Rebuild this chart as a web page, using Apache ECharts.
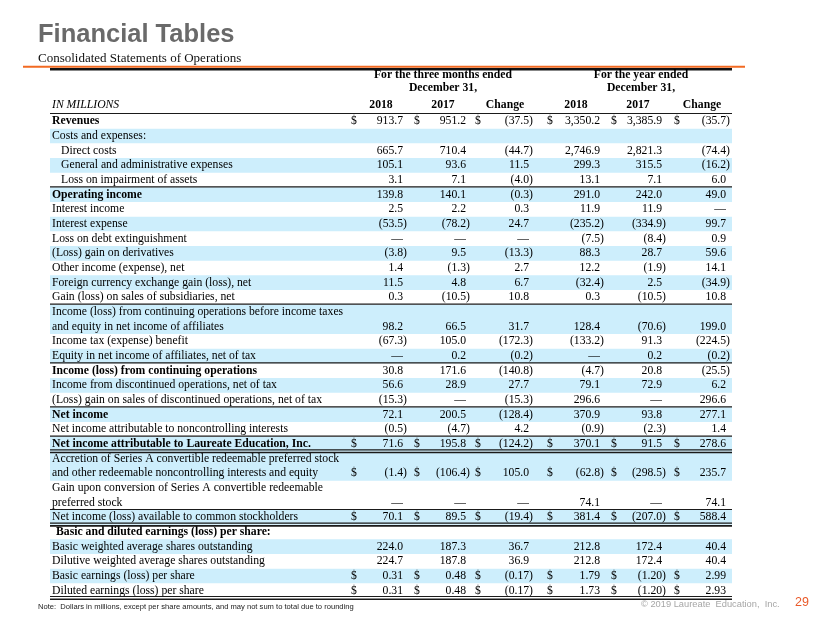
<!DOCTYPE html>
<html>
<head>
<meta charset="utf-8">
<script src="https://cdn.jsdelivr.net/npm/echarts@6/dist/echarts.min.js"></script>
<style>
html,body{margin:0;padding:0;background:#fff;}
#chart{width:830px;height:623px;}
</style>
</head>
<body>
<div id="chart"></div>
<script>
// ---------- DATA ----------
const rowLabels = [
  'Revenues',
  'Costs and expenses:',
  'Direct costs',
  'General and administrative expenses',
  'Loss on impairment of assets',
  'Operating income',
  'Interest income',
  'Interest expense',
  'Loss on debt extinguishment',
  '(Loss) gain on derivatives',
  'Other income (expense), net',
  'Foreign currency exchange gain (loss), net',
  'Gain (loss) on sales of subsidiaries, net',
  'Income (loss) from continuing operations before income taxes\nand equity in net income of affiliates',
  'Income tax (expense) benefit',
  'Equity in net income of affiliates, net of tax',
  'Income (loss) from continuing operations',
  'Income from discontinued operations, net of tax',
  '(Loss) gain on sales of discontinued operations, net of tax',
  'Net income',
  'Net income attributable to noncontrolling interests',
  'Net income attributable to Laureate Education, Inc.',
  'Accretion of Series A convertible redeemable preferred stock\nand other redeemable noncontrolling interests and equity',
  'Gain upon conversion of Series A convertible redeemable\npreferred stock',
  'Net income (loss) available to common stockholders',
  'Basic and diluted earnings (loss) per share:',
  'Basic weighted average shares outstanding',
  'Dilutive weighted average shares outstanding',
  'Basic earnings (loss) per share',
  'Diluted earnings (loss) per share'
];
// null = blank cell, 0 = em dash
const q2018 = [913.7, null, 665.7, 105.1, 3.1, 139.8, 2.5, -53.5, 0, -3.8, 1.4, 11.5, 0.3, 98.2, -67.3, 0, 30.8, 56.6, -15.3, 72.1, -0.5, 71.6, -1.4, 0, 70.1, null, 224.0, 224.7, 0.31, 0.31];
const q2017 = [951.2, null, 710.4, 93.6, 7.1, 140.1, 2.2, -78.2, 0, 9.5, -1.3, 4.8, -10.5, 66.5, 105.0, 0.2, 171.6, 28.9, 0, 200.5, -4.7, 195.8, -106.4, 0, 89.5, null, 187.3, 187.8, 0.48, 0.48];
const qChange = [-37.5, null, -44.7, 11.5, -4.0, -0.3, 0.3, 24.7, 0, -13.3, 2.7, 6.7, 10.8, 31.7, -172.3, -0.2, -140.8, 27.7, -15.3, -128.4, 4.2, -124.2, 105.0, 0, -19.4, null, 36.7, 36.9, -0.17, -0.17];
const y2018 = [3350.2, null, 2746.9, 299.3, 13.1, 291.0, 11.9, -235.2, -7.5, 88.3, 12.2, -32.4, 0.3, 128.4, -133.2, 0, -4.7, 79.1, 296.6, 370.9, -0.9, 370.1, -62.8, 74.1, 381.4, null, 212.8, 212.8, 1.79, 1.73];
const y2017 = [3385.9, null, 2821.3, 315.5, 7.1, 242.0, 11.9, -334.9, -8.4, 28.7, -1.9, 2.5, -10.5, -70.6, 91.3, 0.2, 20.8, 72.9, 0, 93.8, -2.3, 91.5, -298.5, 0, -207.0, null, 172.4, 172.4, -1.20, -1.20];
const yChange = [-35.7, null, -74.4, -16.2, 6.0, 49.0, 0, 99.7, 0.9, 59.6, 14.1, -34.9, 10.8, 199.0, -224.5, -0.2, -25.5, 6.2, 296.6, 277.1, 1.4, 278.6, 235.7, 74.1, 588.4, null, 40.4, 40.4, 2.99, 2.93];
const columns = [q2018, q2017, qChange, y2018, y2017, yChange];
const colHeaders = ['2018', '2017', 'Change', '2018', '2017', 'Change'];
const groupHeaders = ['For the three months ended\nDecember 31,', 'For the year ended\nDecember 31,'];
const unitLabel = 'IN MILLIONS';

const boldRows = [0, 5, 16, 19, 21, 25];
const indentRows = [2, 3, 4];
const subIndentRows = [25];
const dollarRows = [0, 21, 22, 24, 28, 29];
const shadedRows = [1, 3, 5, 7, 9, 11, 13, 15, 17, 19, 21, 22, 24, 26, 28];
const twoDecimalRows = [28, 29];
// rules: [row, edge, kind]
const rules = [
  [0, 'top', 'single'], [5, 'top', 'single'], [13, 'top', 'single'], [16, 'top', 'single'],
  [19, 'top', 'single'], [21, 'top', 'single'], [21, 'bottom', 'double'], [24, 'top', 'single'],
  [24, 'bottom', 'double'], [29, 'bottom', 'double']
];

// ---------- LAYOUT (style) ----------
const tableLeft = 50, tableRight = 732;
const colRight = [403, 466, 529, 600, 662, 726];
const colDollar = [351, 414, 475, 547, 611, 674];
const colCenter = [381, 443, 505, 576, 638, 702];
const groupCenter = [443, 641];
const serif = '"Liberation Serif", "Times New Roman", serif';
const sans = '"Liberation Sans", Arial, sans-serif';
const FS = 11.7;

// row units from line counts
const rowLines = rowLabels.map(l => l.split('\n').length);
const rowStart = [];
let acc = 0;
rowLines.forEach((n, i) => { rowStart.push(acc); acc += n; });
const totalUnits = acc;

function fmt(v, dec) {
  if (v === null || v === undefined) return '';
  if (v === 0) return '\u2014';
  const s = Math.abs(v).toLocaleString('en-US', { minimumFractionDigits: dec, maximumFractionDigits: dec });
  return v < 0 ? '(' + s + ')' : s;
}

function txt(text, x, y, opt) {
  opt = opt || {};
  return {
    type: 'text',
    style: {
      text: text, x: x, y: y,
      fill: opt.fill || '#000',
      fontSize: opt.fontSize || FS,
      fontFamily: opt.fontFamily || serif,
      fontWeight: opt.fontWeight || 'normal',
      fontStyle: opt.fontStyle || 'normal',
      align: opt.align || 'left', textAlign: opt.align || 'left',
      verticalAlign: 'middle', textVerticalAlign: 'middle'
    }
  };
}

const chart = echarts.init(document.getElementById('chart'), null, { renderer: 'canvas' });

const option = {
  animation: false,
  backgroundColor: '#fff',
  grid: { left: 0, right: 0, top: 70, bottom: 25 },
  xAxis: { type: 'value', min: 0, max: 830, show: false },
  yAxis: { type: 'value', min: -3, max: totalUnits, inverse: true, show: false },
  graphic: [
    { type: 'text', left: 38, top: 22, style: { text: 'Financial Tables', fontSize: 25.5, fontWeight: 'bold', fontFamily: sans, fill: '#6a6a6a' } },
    { type: 'text', left: 38, top: 52, style: { text: 'Consolidated Statements of Operations', fontSize: 13, fontFamily: serif, fill: '#111' } },
    { type: 'line', shape: { x1: 23, y1: 66.8, x2: 745, y2: 66.8 }, style: { stroke: '#f26a22', lineWidth: 2 } },
    { type: 'line', shape: { x1: 50, y1: 69.3, x2: 732, y2: 69.3 }, style: { stroke: '#111', lineWidth: 2.4 } },
    { type: 'text', left: 38, top: 603, style: { text: 'Note:  Dollars in millions, except per share amounts, and may not sum to total due to rounding', fontSize: 7.6, fontFamily: sans, fill: '#222' } },
    { type: 'text', left: 641, top: 600, style: { text: '\u00A9 2019 Laureate  Education,  Inc.', fontSize: 9.3, fontFamily: sans, fill: '#a6a6a6' } },
    { type: 'text', left: 795, top: 596, style: { text: '29', fontSize: 12.5, fontFamily: sans, fill: '#ea5a2a' } }
  ],
  series: [
    {
      type: 'custom',
      coordinateSystem: 'cartesian2d',
      data: [[0]],
      silent: true,
      renderItem: function (params, api) {
        const children = [];
        const ys = [api.coord([0, -2.66])[1], api.coord([0, -1.77])[1], api.coord([0, -0.6])[1]];
        groupHeaders.forEach((g, gi) => {
          g.split('\n').forEach((line, li) => {
            children.push(txt(line, groupCenter[gi], ys[li], { fontWeight: 'bold', align: 'center' }));
          });
        });
        colHeaders.forEach((h, ci) => {
          children.push(txt(h, colCenter[ci], ys[2], { fontWeight: 'bold', align: 'center' }));
        });
        children.push(txt(unitLabel, 52, ys[2], { fontStyle: 'italic' }));
        return { type: 'group', children: children };
      }
    },
    {
      type: 'custom',
      coordinateSystem: 'cartesian2d',
      data: rowLabels.map((_, i) => [i]),
      silent: true,
      renderItem: function (params, api) {
        const i = params.dataIndex;
        const u0 = rowStart[i], n = rowLines[i];
        const yTop = api.coord([0, u0])[1];
        const yBot = api.coord([0, u0 + n])[1];
        const children = [];
        if (shadedRows.indexOf(i) >= 0) {
          children.push({ type: 'rect', shape: { x: tableLeft, y: yTop, width: tableRight - tableLeft, height: yBot - yTop }, style: { fill: '#cdeefc' } });
        }
        const bold = boldRows.indexOf(i) >= 0 ? 'bold' : 'normal';
        const lx = indentRows.indexOf(i) >= 0 ? 61 : (subIndentRows.indexOf(i) >= 0 ? 56 : 52);
        rowLabels[i].split('\n').forEach((line, li) => {
          const yc = api.coord([0, u0 + li + 0.5])[1];
          children.push(txt(line, lx, yc, { fontWeight: bold }));
        });
        const yv = api.coord([0, u0 + n - 0.5])[1];
        const dec = twoDecimalRows.indexOf(i) >= 0 ? 2 : 1;
        const hasDollar = dollarRows.indexOf(i) >= 0;
        columns.forEach((col, ci) => {
          const v = col[i];
          if (v === null) return;
          const s = fmt(v, dec);
          const x = v < 0 ? colRight[ci] + 4 : colRight[ci];
          children.push(txt(s, x, yv, { align: 'right' }));
          if (hasDollar) children.push(txt('$', colDollar[ci], yv, {}));
        });
        return { type: 'group', children: children };
      }
    },
    {
      type: 'custom',
      coordinateSystem: 'cartesian2d',
      data: rules.map((r, i) => [i]),
      silent: true,
      z: 5,
      renderItem: function (params, api) {
        const r = rules[params.dataIndex];
        const row = r[0];
        const u = r[1] === 'top' ? rowStart[row] : rowStart[row] + rowLines[row];
        const y = api.coord([0, u])[1];
        const children = [];
        if (r[2] === 'single') {
          children.push({ type: 'line', shape: { x1: tableLeft, y1: y - 0.5, x2: tableRight, y2: y - 0.5 }, style: { stroke: '#1a1a1a', lineWidth: 1.2 } });
        } else {
          children.push({ type: 'line', shape: { x1: tableLeft, y1: y - 1.5, x2: tableRight, y2: y - 1.5 }, style: { stroke: '#1a1a1a', lineWidth: 1.1 } });
          children.push({ type: 'line', shape: { x1: tableLeft, y1: y + 1.2, x2: tableRight, y2: y + 1.2 }, style: { stroke: '#1a1a1a', lineWidth: 1.6 } });
        }
        return { type: 'group', children: children };
      }
    }
  ]
};
chart.setOption(option);
</script>
</body>
</html>
